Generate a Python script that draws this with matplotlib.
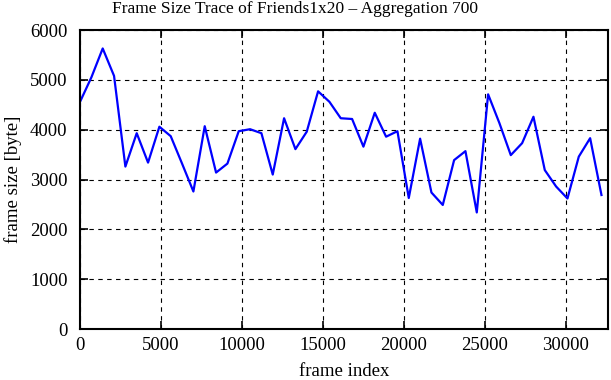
import numpy as np
import matplotlib

matplotlib.use("Agg")
import matplotlib.pyplot as plt

# frame index of each aggregated sample (every 700 frames)
frame_index = np.arange(0, 32201, 700)
frame_size = [
    4560, 5050, 5630, 5080, 3260, 3930, 3340, 4060, 3870, 3320,
    2760, 4070, 3140, 3320, 3970, 4010, 3930, 3100, 4230, 3610,
    3960, 4770, 4560, 4230, 4215, 3660, 4340, 3860, 3970, 2630,
    3820, 2740, 2490, 3390, 3570, 2340, 4710, 4130, 3490, 3730,
    4260, 3190, 2860, 2620, 3460, 3830, 2690,
]

plt.rcParams["font.family"] = ["Liberation Serif", "DejaVu Serif"]

fig = plt.figure(figsize=(6.11, 3.80), dpi=100)
ax = fig.add_axes([0.131, 0.134, 0.864, 0.787])

ax.plot(frame_index, frame_size, color="#0000ff", linewidth=1.6)

ax.set_xlim(0, 32600)
ax.set_ylim(0, 6000)
ax.set_xticks(np.arange(0, 30001, 5000))
ax.set_yticks(np.arange(0, 6001, 1000))

ax.grid(True, color="black", linestyle=(0, (4, 4)), linewidth=0.8)
ax.tick_params(direction="in", top=True, right=True, length=6, width=1.2,
               labelsize=13.5)
ax.tick_params(axis="y", pad=9)
ax.tick_params(axis="x", pad=6)
for s in ax.spines.values():
    s.set_linewidth(1.5)

# gnuplot centres the title on the whole canvas, a bit left of the axes centre
fig.text(295 / 611, 1 - 9 / 380, "Frame Size Trace of Friends1x20 \u2013 Aggregation 700",
         fontsize=12.5, ha="center", va="center")
ax.set_xlabel("frame index", fontsize=13.5, labelpad=6)
ax.set_ylabel("frame size [byte]", fontsize=13.5, labelpad=6)

fig.savefig("out.png", dpi=100)
